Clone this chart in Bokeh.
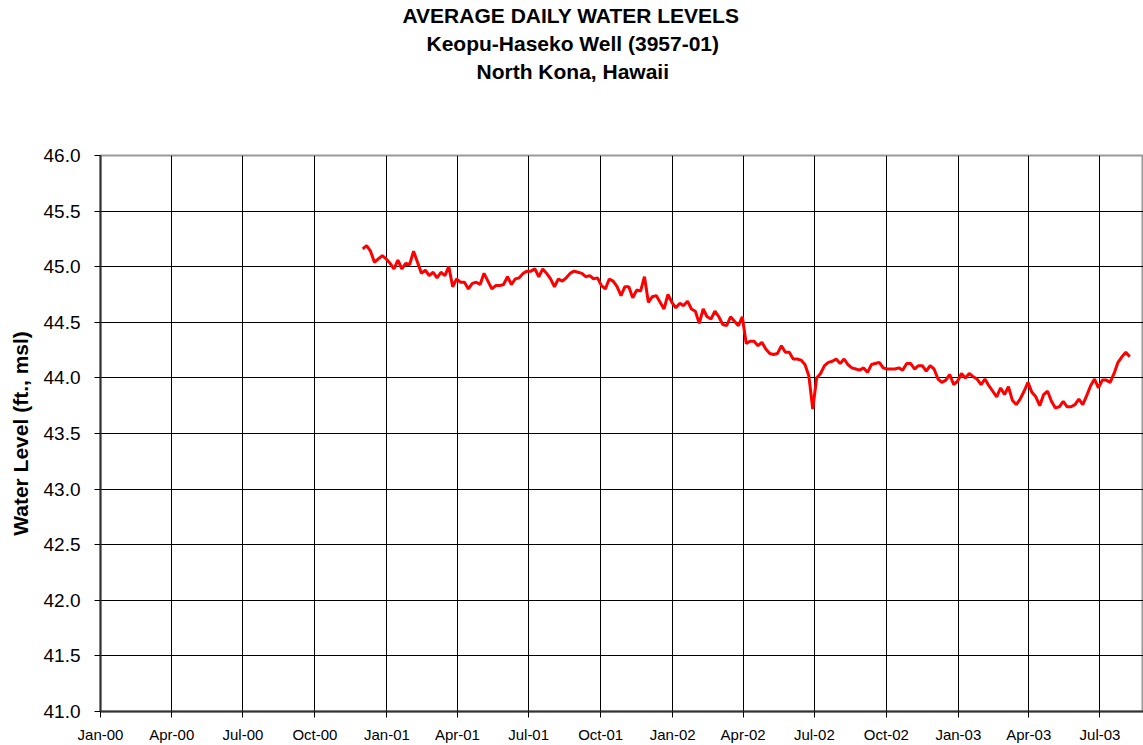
import pandas as pd
from bokeh.plotting import figure
from bokeh.models import Title, FixedTicker, Range1d, ColumnDataSource, DatetimeTickFormatter, PrintfTickFormatter
from bokeh.embed import file_html
from bokeh.resources import INLINE

# ---------------- data ----------------
title_lines = ["AVERAGE DAILY WATER LEVELS", "Keopu-Haseko Well (3957-01)", "North Kona, Hawaii"]
y_label = "Water Level (ft., msl)"
x_tick_labels = ["Jan-00", "Apr-00", "Jul-00", "Oct-00", "Jan-01", "Apr-01", "Jul-01", "Oct-01",
                 "Jan-02", "Apr-02", "Jul-02", "Oct-02", "Jan-03", "Apr-03", "Jul-03"]
y_ticks = [41.0, 41.5, 42.0, 42.5, 43.0, 43.5, 44.0, 44.5, 45.0, 45.5, 46.0]
x_start = "2000-01-01"
x_end = "2003-08-25 14:00"

series_start = "2000-12-01"
series_step_days = 5
levels = [
    45.16, 45.19, 45.14, 45.04, 45.07, 45.10, 45.07, 45.03, 44.98, 45.06,
    44.98, 45.03, 45.02, 45.14, 45.04, 44.94, 44.97, 44.92, 44.95, 44.90,
    44.95, 44.92, 45.00, 44.82, 44.89, 44.86, 44.86, 44.80, 44.85, 44.86,
    44.84, 44.94, 44.87, 44.80, 44.83, 44.83, 44.84, 44.91, 44.84, 44.89,
    44.90, 44.94, 44.96, 44.96, 44.98, 44.91, 44.98, 44.94, 44.89, 44.82,
    44.89, 44.87, 44.90, 44.94, 44.96, 44.95, 44.94, 44.91, 44.92, 44.89,
    44.90, 44.83, 44.80, 44.89, 44.87, 44.82, 44.74, 44.82, 44.82, 44.72,
    44.79, 44.78, 44.91, 44.68, 44.73, 44.74, 44.68, 44.62, 44.75, 44.68,
    44.63, 44.67, 44.65, 44.69, 44.62, 44.60, 44.49, 44.62, 44.55, 44.53,
    44.60, 44.55, 44.48, 44.47, 44.55, 44.51, 44.47, 44.55, 44.31, 44.33,
    44.33, 44.29, 44.32, 44.26, 44.22, 44.21, 44.22, 44.29, 44.23, 44.23,
    44.17, 44.17, 44.16, 44.12, 44.02, 43.72, 44.00, 44.04, 44.11, 44.14,
    44.15, 44.17, 44.13, 44.17, 44.12, 44.09, 44.08, 44.07, 44.09, 44.05,
    44.12, 44.13, 44.14, 44.09, 44.08, 44.08, 44.08, 44.09, 44.07, 44.13,
    44.13, 44.08, 44.11, 44.11, 44.06, 44.11, 44.08, 43.99, 43.96, 43.98,
    44.03, 43.94, 43.97, 44.04, 44.00, 44.04, 44.01, 43.99, 43.94, 43.99,
    43.93, 43.88, 43.83, 43.91, 43.85, 43.92, 43.80, 43.76, 43.81, 43.88,
    43.96, 43.87, 43.83, 43.75, 43.85, 43.88, 43.79, 43.73, 43.74, 43.79,
    43.74, 43.74, 43.76, 43.81, 43.76, 43.84, 43.93, 43.99, 43.91, 43.98,
    43.98, 43.96, 44.04, 44.14, 44.19, 44.23, 44.19,
]

# ---------------- build ----------------
dates = pd.date_range(series_start, periods=len(levels), freq=f"{series_step_days}D")
source = ColumnDataSource(data=dict(date=dates, level=levels))

tick_dates = [pd.to_datetime(s, format="%b-%y") for s in x_tick_labels]
tick_ms = [int(t.value // 10**6) for t in tick_dates]

FONT = "Liberation Sans"
W, H = 1143, 745
LEFT, TOP, BOTTOM = 100, 155, 33

p = figure(width=W, height=H, x_axis_type="datetime",
           x_range=Range1d(pd.Timestamp(x_start), pd.Timestamp(x_end)),
           y_range=Range1d(y_ticks[0], y_ticks[-1]),
           output_backend="svg", toolbar_location=None,
           min_border_left=LEFT, min_border_right=0, min_border_top=TOP, min_border_bottom=BOTTOM)

has_standoff = "standoff" in Title.properties()

def make_title(text, offset, standoff, size="21px"):
    kw = dict(text=text, align="left", offset=offset, text_font=FONT, text_font_size=size,
              text_font_style="bold", text_color="black")
    if has_standoff:
        kw["standoff"] = standoff
    return Title(**kw)

# spacer (closest to the frame), then title lines from bottom to top
p.add_layout(make_title(" ", 0, 46), "above")
title_offsets = [302, 326, 376]
for line, off in reversed(list(zip(title_lines, title_offsets))):
    p.add_layout(make_title(line, off, 3), "above")

p.line(x="date", y="level", source=source, line_color="#FF0000", line_width=3)

# axes
p.xaxis.ticker = FixedTicker(ticks=tick_ms)
p.xaxis.formatter = DatetimeTickFormatter(days="%b-%y", months="%b-%y", years="%b-%y")
p.xaxis.major_label_overrides = {ms: lab for ms, lab in zip(tick_ms, x_tick_labels)}
p.yaxis.ticker = FixedTicker(ticks=y_ticks)
p.yaxis.formatter = PrintfTickFormatter(format="%.1f")
p.yaxis.axis_label = y_label

for ax in (p.xaxis[0], p.yaxis[0]):
    ax.axis_line_color = "#333333"
    ax.axis_line_width = 2
    ax.major_tick_line_color = "black"
    ax.major_tick_in = 0
    ax.major_tick_out = 6
    ax.minor_tick_line_color = None
    ax.major_label_text_font = FONT
    ax.major_label_text_color = "black"

p.xaxis.major_label_text_font_size = "15px"
p.xaxis.major_label_standoff = 8
p.yaxis.major_label_text_font_size = "19px"
p.yaxis.major_label_standoff = 14
p.yaxis.axis_label_text_font = FONT
p.yaxis.axis_label_text_font_size = "21px"
p.yaxis.axis_label_text_font_style = "bold"
p.yaxis.axis_label_text_color = "black"
p.yaxis.axis_label_standoff = 9

p.xgrid.grid_line_color = "black"
p.ygrid.grid_line_color = "black"
p.xgrid.grid_line_width = 1
p.ygrid.grid_line_width = 1
p.outline_line_color = "#999999"
p.outline_line_width = 2
p.background_fill_color = "white"
p.border_fill_color = "white"

open("out.html", "w").write(file_html(p, INLINE))
